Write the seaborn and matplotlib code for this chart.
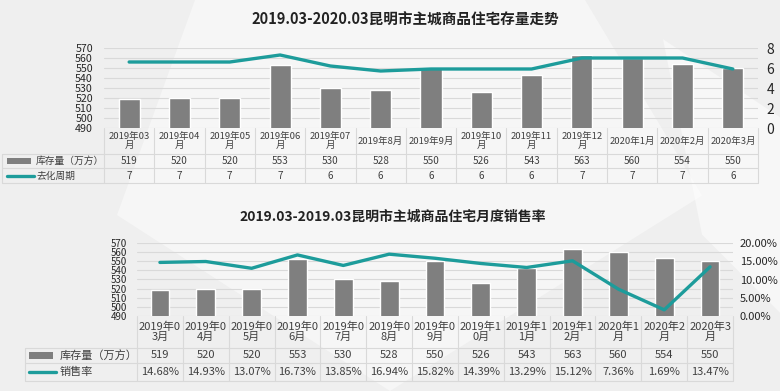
import numpy as np
import pandas as pd
import seaborn as sns
import matplotlib.pyplot as plt
from matplotlib.lines import Line2D
from matplotlib.patches import Rectangle, Polygon

# data
months_top = ['2019年03\n月', '2019年04\n月', '2019年05\n月', '2019年06\n月', '2019年07\n月',
              '2019年8月', '2019年9月', '2019年10\n月', '2019年11\n月', '2019年12\n月',
              '2020年1月', '2020年2月', '2020年3月']
months_bottom = ['2019年0\n3月', '2019年0\n4月', '2019年0\n5月', '2019年0\n6月', '2019年0\n7月',
                 '2019年0\n8月', '2019年0\n9月', '2019年1\n0月', '2019年1\n1月', '2019年1\n2月',
                 '2020年1\n月', '2020年2\n月', '2020年3\n月']
stock = [519, 520, 520, 553, 530, 528, 550, 526, 543, 563, 560, 554, 550]
cycle = [6.6, 6.6, 6.6, 7.3, 6.2, 5.7, 5.9, 5.9, 5.9, 7.0, 7.0, 7.0, 5.9]
sales_rate = [14.68, 14.93, 13.07, 16.73, 13.85, 16.94, 15.82, 14.39, 13.29, 15.12, 7.36, 1.69, 13.47]

title_top = '2019.03-2020.03昆明市主城商品住宅存量走势'
title_bottom = '2019.03-2019.03昆明市主城商品住宅月度销售率'
bar_name = '库存量（万方）'

GRAY = '#7f7f7f'
TEAL = '#1d9c9b'
GRID = '#d9d9d9'
W, H = 780, 391

sns.set_theme(style='white')
plt.rcParams['font.family'] = ['Noto Sans CJK SC', 'DejaVu Sans']

fig = plt.figure(figsize=(W / 100, H / 100), dpi=100)
fig.patch.set_facecolor('#efefef')
# faint lighter shapes in the background, kept behind the axes
fig.add_artist(Polygon([(0.25, 1), (0.75, 1), (0.9, 0.5), (0.5, 0.0), (0.15, 0.45)],
                       closed=True, transform=fig.transFigure, color='white', alpha=0.45,
                       lw=0, zorder=-10))
fig.add_artist(Polygon([(0.85, 0.9), (1, 0.7), (1, 0.2), (0.9, 0.4)],
                       closed=True, transform=fig.transFigure, color='white', alpha=0.5,
                       lw=0, zorder=-10))


def draw_panel(box, rows, legend, cats, line_vals, line_name, line_lim, line_ticks,
               tick_fmt, cell_fmt, fs):
    left, top, right, bottom = box
    n = len(cats)
    ax = fig.add_axes([left / W, 1 - bottom / H, (right - left) / W, (bottom - top) / H])
    ax.patch.set_alpha(0)
    df = pd.DataFrame({'month': cats, 'stock': stock})
    sns.barplot(data=df, x='month', y='stock', color=GRAY, saturation=1,
                width=fs['bar_w'], ax=ax)
    ax.set_xlim(-0.5, n - 0.5)
    ax.set_ylim(490, 570)
    ax.set_yticks(range(490, 571, 10))
    ax.set_xticks([])
    ax.set_xlabel('')
    ax.set_ylabel('')
    ax.tick_params(axis='y', labelsize=fs['left'], pad=fs['lpad'], length=0)
    ax.yaxis.grid(True, color=GRID, lw=0.8)
    ax.set_axisbelow(True)
    for s in ax.spines.values():
        s.set_visible(False)

    ax2 = ax.twinx()
    sns.lineplot(x=np.arange(n), y=line_vals, color=TEAL, lw=2.4, ax=ax2)
    ax2.set_xlim(-0.5, n - 0.5)
    ax2.set_ylim(*line_lim)
    ax2.set_yticks(line_ticks)
    ax2.set_yticklabels([tick_fmt(v) for v in line_ticks])
    ax2.tick_params(axis='y', labelsize=fs['right'], pad=fs['rpad'], length=0)
    ax2.grid(False)
    for s in ax2.spines.values():
        s.set_visible(False)

    h = bottom - top
    fy = lambda y: (bottom - y) / h
    fx = lambda x: (x - left) / (right - left)
    xt = ax.get_xaxis_transform()

    # table borders
    r0, r1, r2, r3 = rows
    for y in (r1, r2, r3):
        ax.add_line(Line2D([fx(legend['x0']), 1], [fy(y), fy(y)], transform=ax.transAxes,
                           color=GRID, lw=0.8, clip_on=False))
    for k in range(n + 1):
        ax.add_line(Line2D([k - 0.5, k - 0.5], [fy(r0), fy(r3)], transform=xt,
                           color=GRID, lw=0.8, clip_on=False))
    ax.add_line(Line2D([fx(legend['x0'])] * 2, [fy(r1), fy(r3)], transform=ax.transAxes,
                       color=GRID, lw=0.8, clip_on=False))

    # cells
    for i in range(n):
        ax.text(i, fy((r0 + r1) / 2), cats[i], transform=xt, ha='center', va='center',
                fontsize=fs['cat'], linespacing=1.05, color='#404040')
        ax.text(i, fy((r1 + r2) / 2), str(stock[i]), transform=xt, ha='center', va='center',
                fontsize=fs['cell'], color='#404040')
        ax.text(i, fy((r2 + r3) / 2), cell_fmt(line_vals[i]), transform=xt, ha='center',
                va='center', fontsize=fs['cell'], color='#404040')

    # legend column
    sx0, sx1, tx = legend['sw0'], legend['sw1'], legend['tx']
    ym1 = (r1 + r2) / 2
    ym2 = (r2 + r3) / 2
    sh = legend['sh']
    ax.add_patch(Rectangle((fx(sx0), fy(ym1 + sh / 2)), fx(sx1) - fx(sx0), sh / h,
                           transform=ax.transAxes, color=GRAY, clip_on=False, lw=0))
    ax.add_line(Line2D([fx(sx0), fx(sx1 + 3)], [fy(ym2), fy(ym2)], transform=ax.transAxes,
                       color=TEAL, lw=2.4, clip_on=False))
    ax.text(fx(tx), fy(ym1), bar_name, transform=ax.transAxes, ha='left', va='center',
            fontsize=fs['legend'], color='#404040')
    ax.text(fx(tx), fy(ym2), line_name, transform=ax.transAxes, ha='left', va='center',
            fontsize=fs['legend'], color='#404040')
    return ax


draw_panel((104, 48, 758, 128), (128, 154, 168, 183),
           {'x0': 2, 'sw0': 7, 'sw1': 31, 'tx': 36, 'sh': 6},
           months_top, cycle, '去化周期', (0, 8), [0, 2, 4, 6, 8],
           lambda v: f'{v:g}', lambda v: f'{v:.0f}',
           {'bar_w': 0.42, 'left': 7.7, 'lpad': 8, 'right': 10, 'rpad': 6,
            'cat': 6.8, 'cell': 7.2, 'legend': 7})

draw_panel((137, 243, 733, 316), (316, 348, 363, 381),
           {'x0': 25, 'sw0': 29, 'sw1': 53, 'tx': 60, 'sh': 7},
           months_bottom, sales_rate, '销售率', (0, 20), [0, 5, 10, 15, 20],
           lambda v: f'{v:.2f}%', lambda v: f'{v:.2f}%',
           {'bar_w': 0.41, 'left': 7, 'lpad': 7, 'right': 8, 'rpad': 5,
            'cat': 8, 'cell': 8, 'legend': 8})

fig.text(405 / W, 1 - 20 / H, title_top, ha='center', va='center',
         fontsize=10.5, fontweight='bold', color='#222222')
fig.text(393 / W, 1 - 217 / H, title_bottom, ha='center', va='center',
         fontsize=10, fontweight='bold', color='#222222')

fig.savefig('out.png', dpi=100, facecolor=fig.get_facecolor())
